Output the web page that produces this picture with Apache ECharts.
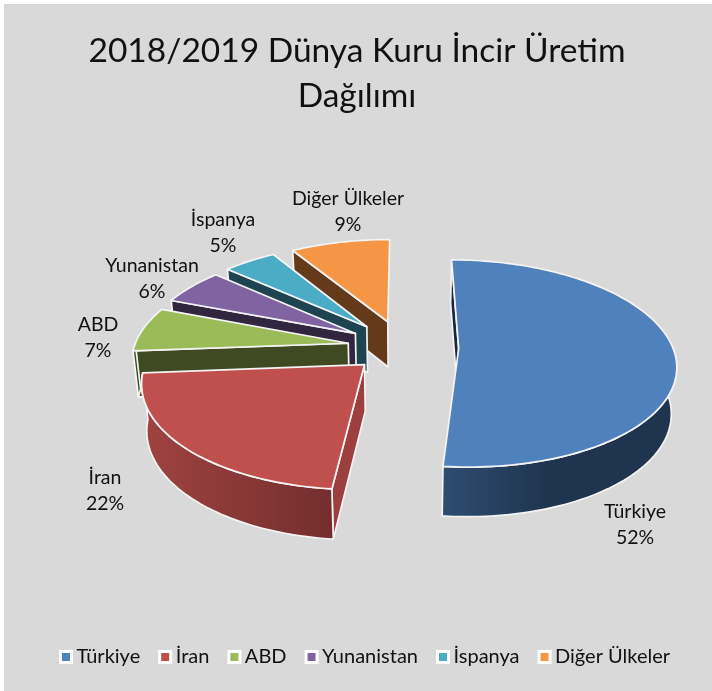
<!DOCTYPE html>
<html><head><meta charset="utf-8">
<style>html,body{margin:0;padding:0;background:#fff}#c{width:712px;height:691px}</style>
<script src="https://cdn.jsdelivr.net/npm/echarts@6/dist/echarts.min.js"></script>
</head><body><div id="c"></div>
<script>
const categories = ['Türkiye','İran','ABD','Yunanistan','İspanya','Diğer Ülkeler'];
const shares = [51.6,22.2,7.0,5.7,4.7,8.8];
const titleLines = '2018/2019 Dünya Kuru İncir Üretim\nDağılımı';
const topColors = ['#4f81bd','#c0504d','#9bbb59','#8064a2','#4bacc6','#f59646'];
const wallA = ['#2f4d72','#a04341','#3f4a22','#31253f','#1d4450','#653a1a'];
const wallB = ['#1f344f','#722e2d','#3f4a22','#31253f','#1d4450','#653a1a'];
const sideCol = ['#16283e','#9c3f3e','#3f4a22','#31253f','#1d4450','#653a1a'];
const explode = [0.26,0.245,0.26,0.265,0.27,0.27];
const labelPos = [[635,525],[105,491],[98,338],[152,279],[223,233],[348,212]];
const drawOrder = [5,4,3,2,1,0];

const C = {cx:403, cy:347, R:214, aR:101, p:0.146};
const total = shares.reduce((a,b)=>a+b,0);
const starts = []; let acc = 0;
shares.forEach(v=>{starts.push(acc); acc += v/total*360;});

function proj(x,y){
  const s = 1/(1-C.p*y);
  return [C.cx + C.R*x*s, C.cy + C.aR*y*s];
}
function lower(p){
  return [p[0] + (C.cx-p[0])*0.02, p[1] + 46 + 0.03*(p[1]-C.cy)];
}
function sliceGeom(i, value){
  const d0 = starts[i], d1 = starts[i]+value/total*360;
  const a0 = d0*Math.PI/180, a1 = d1*Math.PI/180;
  const mid = (a0+a1)/2, ex = explode[i]*Math.sin(mid), ey = -explode[i]*Math.cos(mid);
  const arc = [], front = [];
  const n = Math.max(8, Math.round((a1-a0)*40));
  for(let k=0;k<=n;k++){
    const d = d0+(d1-d0)*k/n, t = d*Math.PI/180;
    const p = proj(ex+Math.sin(t), ey-Math.cos(t));
    arc.push(p);
    if(d>=90 && d<=270) front.push(p);
  }
  return {apex:proj(ex,ey), arc, front};
}
function wallFill(i){
  const stops = i===0
    ? [{offset:0,color:wallA[i]},{offset:0.45,color:wallB[i]},{offset:1,color:wallB[i]}]
    : [{offset:0,color:wallA[i]},{offset:1,color:wallB[i]}];
  return {type:'linear',x:0,y:0,x2:1,y2:0,colorStops:stops};
}
function renderSlice(i){
  return function(params, api){
    const g = sliceGeom(i, api.value(0));
    const white = {stroke:'#f4f4f4', lineWidth:1.7, lineJoin:'round'};
    const apexL = lower(g.apex);
    const children = [];
    const first = g.arc[0];
    // radial wall on the slice's starting edge
    children.push({type:'polygon', shape:{points:[g.apex,first,lower(first),apexL]},
      style:Object.assign({fill:sideCol[i]},white)});
    // outer wall, only the part facing the viewer
    if(g.front.length>1){
      const dn = g.front.map(lower).reverse();
      children.push({type:'polygon', shape:{points:g.front.concat(dn)},
        style:Object.assign({fill:wallFill(i)},white)});
    }
    // top surface
    children.push({type:'polygon', shape:{points:[g.apex].concat(g.arc)},
      style:Object.assign({fill:topColors[i]},white)});
    // data label
    children.push({type:'text', z2:100, style:{
      text:categories[i]+'\n'+Math.round(api.value(0))+'%',
      x:labelPos[i][0], y:labelPos[i][1], align:'center', verticalAlign:'middle',
      font:'19.5px Lato', lineHeight:26, fill:'#111'}});
    return {type:'group', children};
  };
}
const chart = echarts.init(document.getElementById('c'));
chart.setOption({
  animation:false,
  backgroundColor:'#fff',
  graphic:[{type:'rect',z:-10,shape:{x:4,y:4,width:708,height:687},style:{fill:'#d9d9d9'}}],
  title:{text:titleLines,left:352,top:24,textAlign:'center',
    textStyle:{fontFamily:'Lato',fontSize:33.5,fontWeight:'normal',color:'#111',lineHeight:45,align:'center'}},
  legend:{data:categories,top:647,left:59,selectedMode:false,icon:'rect',padding:0,
    itemWidth:11,itemHeight:11,itemGap:18,
    itemStyle:{borderColor:'#fff',borderWidth:3},
    textStyle:{fontFamily:'Lato',fontSize:20,color:'#111'}},
  series:drawOrder.map(i=>({
    type:'custom', name:categories[i], coordinateSystem:'none',
    itemStyle:{color:topColors[i]},
    renderItem:renderSlice(i), data:[[shares[i]]], silent:true
  }))
});
</script></body></html>
